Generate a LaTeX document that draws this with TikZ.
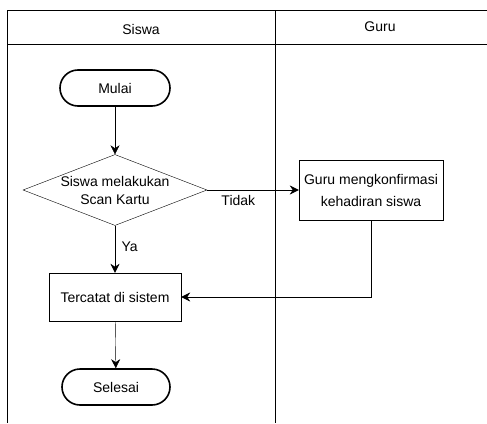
\documentclass[tikz,border=0pt]{standalone}
\usepackage{fontspec}
\setmainfont{Liberation Sans}
\usetikzlibrary{shapes.geometric,arrows.meta}

\begin{document}
\begin{tikzpicture}[x=1pt, y=-1pt, font=\fontsize{14}{18}\selectfont,
    terminal/.style={draw, line width=1.6pt, rectangle, rounded corners=18pt, minimum width=110pt, minimum height=36pt},
    process/.style={draw, rectangle, align=center},
    decision/.style={draw, diamond, aspect=2.6, minimum width=184pt, minimum height=71pt, inner sep=0pt, align=center},
    >={Stealth[length=9pt, width=9pt, inset=3pt]}]
      \useasboundingbox (0,0) rectangle (487,423);
      % swimlanes
      \draw (7,10) -- (487,10);
      \draw (7,44) -- (487,44);
      \draw (7,10) -- (7,423);
      \draw (275,10) -- (275,423);
      \node (siswa) at (141,29) {Siswa};
      \node (gurulane) at (380,27) {Guru};
      % flow
      \node[terminal] (mulai) at (115,88) {Mulai};
      \node[decision] (scan) at (115,190) {Siswa melakukan\\Scan Kartu};
      \node[process, minimum width=144pt, minimum height=60pt, font=\fontsize{14}{22}\selectfont] (guru) at (371,190) {Guru mengkonfirmasi\\kehadiran siswa};
      \node[process, minimum width=132pt, minimum height=48pt] (tercatat) at (115,297) {Tercatat di sistem};
      \node[terminal, minimum width=108pt] (selesai) at (116,387) {Selesai};
      \draw[->] (mulai) -- (scan);
      \draw[->] (scan) -- node[pos=0.34, below=2pt] {Tidak} (guru);
      \draw[->] (scan) -- node[pos=0.45, right=3pt] {Ya} (tercatat);
      \draw[->] (guru.south) |- (tercatat.east);
      \draw[->] (tercatat) -- (selesai);
    \end{tikzpicture}
\end{document}
